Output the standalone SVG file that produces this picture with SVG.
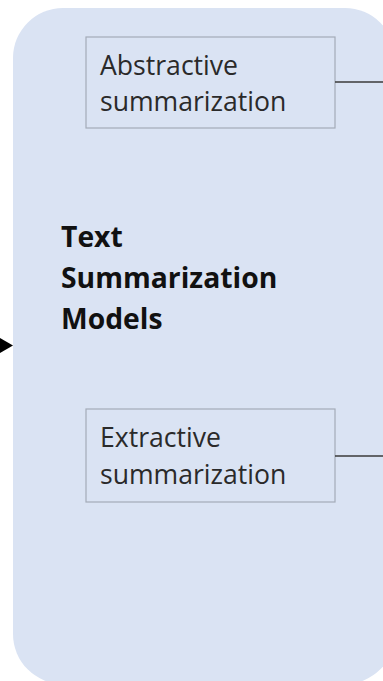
<svg xmlns="http://www.w3.org/2000/svg" width="383" height="681" viewBox="0 0 383 681">
<style>
.bg{fill:#dae3f3;stroke:none}
.box{fill:none;stroke:#a4abb8;stroke-width:1.2}
.lbl{font-family:"Open Sans","Liberation Sans",sans-serif;font-size:26.6px;fill:#2a2a2a}
.ttl{font-family:"Open Sans","Liberation Sans",sans-serif;font-size:28.3px;font-weight:bold;fill:#111}
.con{stroke:#3a3a3a;stroke-width:1.5;fill:none}
</style>
<rect width="383" height="681" fill="#ffffff"/>
<g id="models">
<rect class="bg" x="13" y="8" width="382" height="676" rx="50" ry="50"/>
<text class="ttl" x="61" y="247">Text</text>
<text class="ttl" x="61" y="288">Summarization</text>
<text class="ttl" x="61" y="329">Models</text>
</g>
<g id="abstractive">
<rect class="box" x="86" y="37" width="249" height="91"/>
<text class="lbl" x="100" y="75">Abstractive</text>
<text class="lbl" x="100" y="111">summarization</text>
</g>
<g id="extractive">
<rect class="box" x="86" y="409" width="249" height="93"/>
<text class="lbl" x="100" y="447">Extractive</text>
<text class="lbl" x="100" y="484">summarization</text>
</g>
<g id="connectors">
<line class="con" x1="335" y1="82" x2="383" y2="82"/>
<line class="con" x1="335" y1="456" x2="383" y2="456"/>
<path d="M0,338 L13,345.5 L0,353 Z" fill="#000"/>
</g>
</svg>
